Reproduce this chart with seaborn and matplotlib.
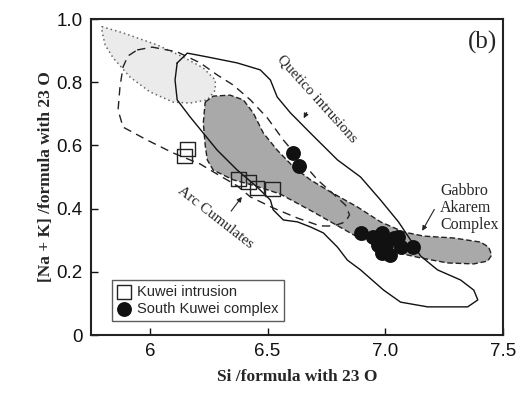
import matplotlib
matplotlib.use("Agg")
import matplotlib.pyplot as plt
import seaborn as sns
import pandas as pd

# ---- data ----
kuwei_si = [6.159, 6.146, 6.376, 6.418, 6.456, 6.520]
kuwei_nak = [0.589, 0.566, 0.494, 0.484, 0.465, 0.462]

south_si = [6.610, 6.635, 6.895, 6.946, 6.988, 6.988, 7.035, 7.022, 7.065, 7.116, 7.052, 6.967, 7.005]
south_nak = [0.576, 0.535, 0.323, 0.310, 0.323, 0.259, 0.307, 0.253, 0.278, 0.278, 0.310, 0.285, 0.285]

# light grey dotted field
dotted_x = [5.796, 5.886, 6.031, 6.141, 6.227, 6.278, 6.278, 6.244, 6.171, 6.099, 6.001, 5.916, 5.844, 5.810, 5.797]
dotted_y = [0.976, 0.956, 0.918, 0.880, 0.845, 0.807, 0.775, 0.744, 0.734, 0.737, 0.769, 0.816, 0.877, 0.918, 0.959]

# Arc cumulates (dashed)
arc_x = [5.946, 6.010, 6.116, 6.214, 6.286, 6.354, 6.427, 6.499, 6.567, 6.639, 6.712, 6.780, 6.831, 6.848,
         6.831, 6.780, 6.724, 6.627, 6.524, 6.427, 6.371, 6.286, 6.214, 6.099, 5.988, 5.886, 5.865, 5.873, 5.886, 5.907]
arc_y = [0.902, 0.911, 0.896, 0.861, 0.823, 0.791, 0.744, 0.687, 0.617, 0.554, 0.491, 0.446, 0.411, 0.380,
         0.358, 0.345, 0.345, 0.370, 0.402, 0.437, 0.472, 0.509, 0.541, 0.576, 0.617, 0.658, 0.712, 0.785, 0.848, 0.883]

# Gabbro Akarem Complex (grey, dashed)
gak_x = [6.235, 6.269, 6.341, 6.397, 6.439, 6.482, 6.541, 6.610, 6.682, 6.767, 6.882, 6.980, 7.078, 7.163, 7.290,
         7.405, 7.439, 7.452, 7.435, 7.376, 7.265, 7.150, 7.035, 6.882, 6.695, 6.554, 6.448, 6.354, 6.269, 6.244, 6.235, 6.227]
gak_y = [0.737, 0.756, 0.759, 0.744, 0.703, 0.639, 0.585, 0.532, 0.491, 0.453, 0.405, 0.358, 0.326, 0.313, 0.307,
         0.294, 0.278, 0.253, 0.234, 0.225, 0.228, 0.244, 0.263, 0.310, 0.389, 0.446, 0.472, 0.491, 0.522, 0.554, 0.601, 0.671]

# Quetico intrusions (solid)
que_x = [6.116, 6.159, 6.244, 6.371, 6.469, 6.512, 6.541, 6.597, 6.682, 6.797, 6.895, 6.980, 7.056, 7.107, 7.150,
         7.222, 7.320, 7.376, 7.393, 7.350, 7.180, 7.065, 6.993, 6.895, 6.839, 6.797, 6.737, 6.682, 6.627, 6.567,
         6.524, 6.512, 6.456, 6.371, 6.286, 6.227, 6.171, 6.116, 6.107]
que_y = [0.861, 0.892, 0.880, 0.861, 0.839, 0.807, 0.753, 0.703, 0.639, 0.554, 0.500, 0.427, 0.358, 0.301, 0.250,
         0.206, 0.174, 0.142, 0.111, 0.089, 0.089, 0.104, 0.142, 0.206, 0.237, 0.278, 0.323, 0.342, 0.358, 0.364,
         0.396, 0.427, 0.468, 0.522, 0.585, 0.639, 0.690, 0.744, 0.807]

xticks = [6.0, 6.5, 7.0, 7.5]
xticklabels = ["6", "6.5", "7.0", "7.5"]
yticks = [0, 0.2, 0.4, 0.6, 0.8, 1.0]
yticklabels = ["0", "0.2", "0.4", "0.6", "0.8", "1.0"]

sns.set_theme(style="white")
plt.rcParams["font.family"] = ["Liberation Sans", "DejaVu Sans"]

fig = plt.figure(figsize=(5.2, 3.99), dpi=100)
ax = fig.add_axes([91 / 520, 1 - 335 / 399, (503 - 91) / 520, (335 - 19) / 399])

def closed(xs, ys):
    return list(xs) + [xs[0]], list(ys) + [ys[0]]

# fills
ax.fill(dotted_x, dotted_y, facecolor="#ebebeb", edgecolor="none", zorder=1)
ax.fill(gak_x, gak_y, facecolor="#a9a9a9", edgecolor="none", zorder=1.5)

# outlines
cx, cy = closed(dotted_x, dotted_y)
ax.plot(cx, cy, color="#666666", lw=1.1, linestyle=(0, (1, 2)), zorder=2)
cx, cy = closed(gak_x, gak_y)
ax.plot(cx, cy, color="#222222", lw=1.0, linestyle=(0, (4, 2)), zorder=2)
cx, cy = closed(arc_x, arc_y)
ax.plot(cx, cy, color="#222222", lw=1.0, linestyle=(0, (6, 4)), zorder=2)
cx, cy = closed(que_x, que_y)
ax.plot(cx, cy, color="#111111", lw=1.0, linestyle="-", zorder=2)

# points
df_k = pd.DataFrame({"Si": kuwei_si, "NaK": kuwei_nak})
df_s = pd.DataFrame({"Si": south_si, "NaK": south_nak})
sns.scatterplot(data=df_k, x="Si", y="NaK", ax=ax, marker="s", s=110,
                facecolor="none", edgecolor="#222222", linewidth=1.0, zorder=3, label="Kuwei intrusion")
sns.scatterplot(data=df_s, x="Si", y="NaK", ax=ax, marker="o", s=115,
                color="#111111", edgecolor="#111111", linewidth=0, zorder=3, label="South Kuwei complex")

ax.set_xlim(5.75, 7.5)
ax.set_ylim(0, 1.0)
ax.set_xticks(xticks)
ax.set_xticklabels(xticklabels)
ax.set_yticks(yticks)
ax.set_yticklabels(yticklabels)
ax.tick_params(axis="both", direction="in", length=5, width=1, labelsize=13.5, colors="#111111",
               bottom=True, left=True, top=False, right=False, pad=6)
for sp in ax.spines.values():
    sp.set_color("#222222")
    sp.set_linewidth(1.5)

serif = ["Liberation Serif", "DejaVu Serif"]
ax.set_xlabel("Si /formula with 23 O", fontsize=12.5, fontweight="bold", family=serif, labelpad=6)
ax.set_ylabel("[Na + K] /formula with 23 O", fontsize=12.5, fontweight="bold", family=serif, labelpad=2)

leg = ax.legend(loc="lower left", bbox_to_anchor=(0.05, 0.045), frameon=True, fancybox=False,
                fontsize=10.5, handletextpad=0.4, borderpad=0.35, labelspacing=0.2, handlelength=1.0,
                borderaxespad=0)
leg.get_frame().set_edgecolor("#333333")
leg.get_frame().set_linewidth(1.0)

# annotations
ax.text(7.414, 0.927, "(b)", fontsize=18, family=serif, ha="center", va="center")
ax.text(6.712, 0.748, "Quetico intrusions", fontsize=11, family=serif, rotation=-48,
        ha="center", va="center", rotation_mode="anchor")
ax.annotate("", xy=(6.648, 0.678), xytext=(6.672, 0.712),
            arrowprops=dict(arrowstyle="-|>", color="#222222", lw=0.8, mutation_scale=7))
ax.text(6.278, 0.373, "Arc Cumulates", fontsize=11, family=serif, rotation=-38,
        ha="center", va="center", rotation_mode="anchor")
ax.annotate("", xy=(6.398, 0.444), xytext=(6.338, 0.385),
            arrowprops=dict(arrowstyle="-|>", color="#222222", lw=0.8, mutation_scale=7))
ax.text(7.232, 0.402, "Gabbro\nAkarem\nComplex", fontsize=11.5, family=serif, ha="left", va="center",
        linespacing=1.05)
ax.annotate("", xy=(7.151, 0.322), xytext=(7.214, 0.405),
            arrowprops=dict(arrowstyle="-|>", color="#222222", lw=0.8, mutation_scale=7))

fig.savefig("out.png", dpi=100)
